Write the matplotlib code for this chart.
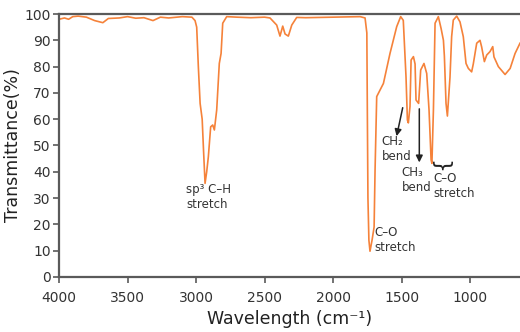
import matplotlib.pyplot as plt

# IR spectrum
wavenumber = [4000, 3960, 3930, 3900, 3860, 3800, 3740, 3680, 3640, 3560, 3500, 3440,
              3380, 3314, 3260, 3200, 3100, 3030, 3007, 2995, 2983, 2970, 2955, 2945,
              2934, 2922, 2910, 2893, 2878, 2866, 2849, 2830, 2817, 2805, 2776, 2700,
              2600, 2500, 2460, 2411, 2387, 2367, 2350, 2326, 2301, 2265, 2200, 2000,
              1802, 1766, 1753, 1749, 1745, 1738, 1730, 1715, 1700, 1693, 1681, 1632,
              1584, 1535, 1506, 1487, 1467, 1457, 1450, 1438, 1430, 1413, 1401, 1394,
              1375, 1360, 1336, 1316, 1299, 1284, 1278, 1267, 1255, 1231, 1211, 1194,
              1187, 1175, 1165, 1146, 1134, 1122, 1097, 1073, 1049, 1029, 1012, 988,
              976, 951, 927, 915, 895, 878, 854, 834, 825, 793, 744, 707, 671, 635]
transmittance = [98.0, 98.5, 98.0, 99.0, 99.2, 98.8, 97.5, 96.7, 98.3, 98.5, 99.0, 98.4,
                 98.6, 97.5, 98.8, 98.5, 99.0, 98.8, 97.5, 95.0, 80.0, 66.0, 60.0, 48.0,
                 35.6, 40.0, 45.7, 57.1, 57.8, 55.9, 63.5, 81.2, 85.0, 96.5, 99.0, 98.8,
                 98.6, 98.8, 98.5, 95.8, 91.6, 95.4, 92.4, 91.6, 95.8, 98.7, 98.6, 98.8,
                 99.0, 98.5, 92.8, 60.0, 30.0, 14.0, 9.8, 14.0, 19.0, 40.7, 68.6, 73.6,
                 85.0, 95.2, 99.0, 97.6, 76.0, 59.7, 58.6, 64.8, 82.5, 83.8, 81.0, 67.3,
                 66.0, 78.7, 81.2, 77.4, 63.5, 44.5, 43.2, 63.5, 96.5, 99.0, 94.5, 90.0,
                 84.0, 66.0, 61.2, 76.0, 91.4, 97.7, 99.2, 97.0, 91.4, 81.2, 79.3, 78.0,
                 81.0, 88.9, 90.0, 87.5, 81.9, 84.4, 85.7, 87.6, 83.7, 80.0, 77.0, 79.3,
                 85.0, 88.9]

x_ticks = [4000, 3500, 3000, 2500, 2000, 1500, 1000]
y_ticks = [0, 10, 20, 30, 40, 50, 60, 70, 80, 90, 100]

# band labels: text, x, y
labels = [("sp\u00b3 C\u2013H\nstretch", 3070, 30.5),
          ("C\u2013O\nstretch", 1700, 14.0),
          ("CH\u2082\nbend", 1645, 48.5),
          ("CH\u2083\nbend", 1498, 37.0),
          ("C\u2013O\nstretch", 1265, 34.5)]
# arrows: start (x, y), end (x, y)
arrows = [((1487, 65.4), (1540, 52.5)),
          ((1370, 65.0), (1370, 42.5))]
brace_x, brace_y = 1207, 43.5

orange = "#f5823a"
grey = "#5a5a5a"

fig = plt.figure(figsize=(5.2, 3.32), dpi=100)
ax = fig.add_axes([0.1135, 0.1657, 0.8865, 0.7921])

ax.plot(wavenumber, transmittance, color=orange, lw=1.2)

ax.set_xlim(4000, 635)
ax.set_ylim(0, 100)
ax.set_xticks(x_ticks)
ax.set_yticks(y_ticks)
ax.tick_params(colors=grey, labelcolor="#333333", labelsize=10,
               length=4, width=1.2)
ax.tick_params(axis="x", pad=6)
ax.tick_params(axis="y", pad=2)
for side in ["left", "bottom", "top"]:
    ax.spines[side].set_color(grey)
    ax.spines[side].set_linewidth(1.6)
ax.spines["right"].set_visible(False)

ax.set_xlabel("Wavelength (cm\u207b\u00b9)", fontsize=12.5, color="#222222", labelpad=4)
ax.set_ylabel("Transmittance(%)", fontsize=12.5, color="#222222", labelpad=2)

for txt, x, y in labels:
    ax.text(x, y, txt, fontsize=8.5, color="#333333", ha="left", va="center",
            linespacing=1.2)

for (x0, y0), (x1, y1) in arrows:
    ax.annotate("", xy=(x1, y1), xytext=(x0, y0),
                arrowprops=dict(arrowstyle="-|>", color="#222222", lw=1.1,
                                mutation_scale=10))

ax.text(brace_x, brace_y, "{", rotation=90, fontsize=16, color="#222222",
        ha="center", va="center")

fig.savefig("out.png", dpi=100)
